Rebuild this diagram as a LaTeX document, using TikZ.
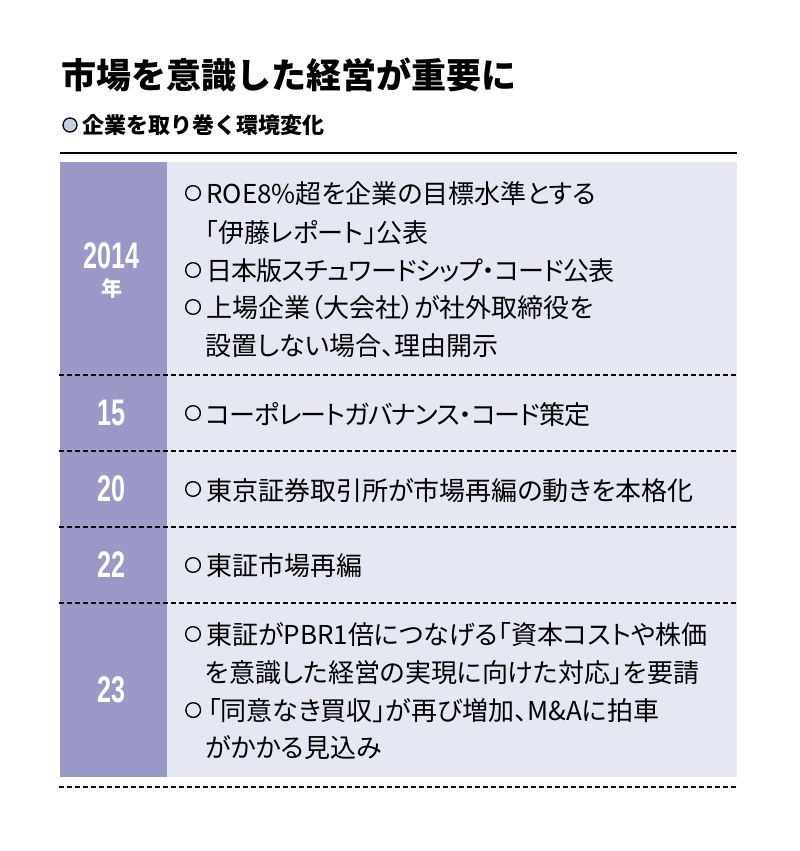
\documentclass[tikz,border=0pt]{standalone}
\usepackage{graphicx}
\usepackage{fontspec}
\newfontfamily\jp{Noto Sans CJK JP}[RawFeature=+palt]
\newfontfamily\jpt{Noto Sans CJK JP}
\newfontfamily\bulf{Noto Sans CJK JP}[FakeBold=4]
\newfontfamily\yrf{Liberation Sans}
\definecolor{purp}{HTML}{9A98C6}
\definecolor{pale}{HTML}{E5E8F2}
\definecolor{dotc}{HTML}{C9CFE2}
\newcommand{\inbul}{\makebox[23pt][l]{\raisebox{3.5pt}{\bulf\fontsize{17}{17}\selectfont ○}}}
\tikzset{
  txt/.style={anchor=base west, inner sep=0pt, text=black, font=\jp\fontsize{26}{26}\selectfont},
  yr/.style={anchor=center, inner sep=0pt, text=white, font=\yrf\bfseries\fontsize{37}{37}\selectfont},
  nen/.style={anchor=center, inner sep=0pt, text=white, font=\jpt\bfseries\fontsize{21}{21}\selectfont},
  bul/.style={anchor=center, inner sep=0pt, text=black, font=\bulf\fontsize{17}{17}\selectfont},
  dsh/.style={line width=2pt, dash pattern=on 5pt off 3pt},
  rule/.style={line width=2pt},
}
\begin{document}
\begin{tikzpicture}[x=1pt,y=-1pt]
\useasboundingbox (0,0) rectangle (800,851);
% title
\node[anchor=west, inner sep=0pt, font=\jpt\bfseries\fontsize{35}{35}\selectfont] (title) at (61,75) {市場を意識した経営が重要に};
\node[circle, draw=black, line width=1.3pt, fill=dotc, minimum size=14pt, inner sep=0pt] (sdot) at (70,125) {};
\node[anchor=west, inner sep=0pt, font=\jpt\bfseries\fontsize{22}{22}\selectfont] (sub) at (82,125) {企業を取り巻く環境変化};
% table background
\fill[pale] (60,162) rectangle (737,777);
\fill[purp] (60,162) rectangle (167,777);
\draw[rule] (60,153) -- (737,153);
\foreach \yy in {375,451,527,603,787} {\draw[dsh] (59,\yy) -- (737,\yy);}
% years
\node[yr] (y14) at (111.5,255.5) {\scalebox{0.68}[1]{2014}};
\node[nen] (nen) at (111.5,288.5) {年};
\node[yr] (y15) at (111.5,413) {\scalebox{0.68}[1]{15}};
\node[yr] (y20) at (111.5,489) {\scalebox{0.68}[1]{20}};
\node[yr] (y22) at (111.5,565) {\scalebox{0.68}[1]{22}};
\node[yr] (y23) at (111.5,690) {\scalebox{0.68}[1]{23}};
% row 2014
\node[bul] (b1) at (193,193) {○};
\node[txt] (t1) at (206,203) {ROE8\%超を企業の目標水準とする};
\node[txt] (t2) at (205,242) {「伊藤レポート」公表};
\node[bul] (b2) at (193,270) {○};
\node[txt] (t3) at (206,280) {\addfontfeature{LetterSpace=-2.8}日本版スチュワードシップ・コード公表};
\node[bul] (b3) at (193,307) {○};
\node[txt] (t4) at (206,317) {上場企業（大会社）が社外取締役を};
\node[txt] (t5) at (205,355) {設置しない場合、理由開示};
% row 15
\node[bul] (b4) at (193,413) {○};
\node[txt] (t6) at (206,424) {\addfontfeature{LetterSpace=-3.8}コーポレートガバナンス・コード策定};
% row 20
\node[bul] (b5) at (193,489) {○};
\node[txt] (t7) at (206,500) {東京証券取引所が市場再編の動きを本格化};
% row 22
\node[bul] (b6) at (193,565) {○};
\node[txt] (t8) at (206,575) {東証市場再編};
% row 23
\node[bul] (b7) at (193,634) {○};
\node[txt] (t9) at (206,644) {東証がPBR1倍につなげる「資本コストや株価};
\node[txt] (t10) at (205,682) {を意識した経営の実現に向けた対応」を要請};
\node[txt] (t11) at (184.5,720) {\inbul「同意なき買収」が再び増加、M\&Aに拍車};
\node[txt] (t12) at (205,757) {がかかる見込み};
\end{tikzpicture}
\end{document}
